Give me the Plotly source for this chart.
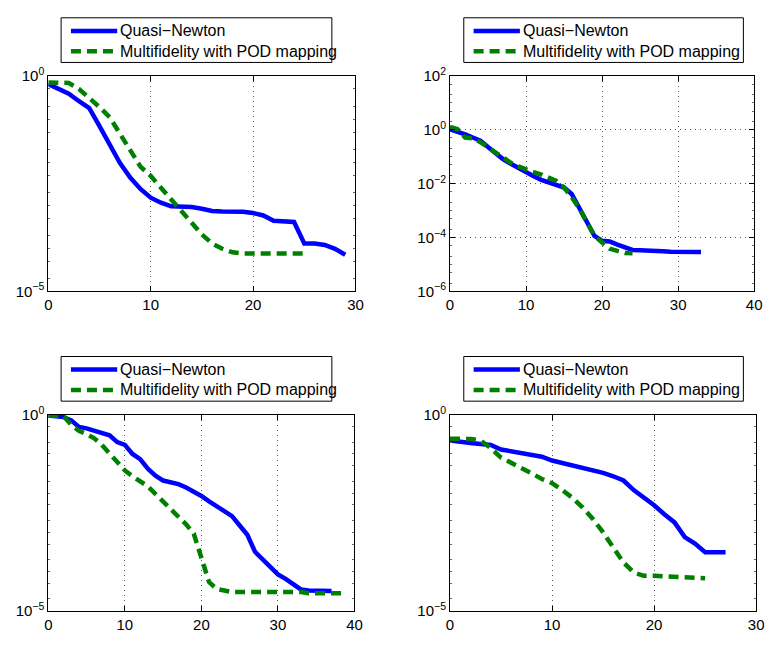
import plotly.graph_objects as go

# Residual histories for the four test cases (iteration vs. objective residual)
qn_1 = [0.65, 0.50, 0.39, 0.26, 0.18, 0.069, 0.025, 9.5e-3, 4.4e-3, 2.4e-3,
        1.5e-3, 1.15e-3, 9.5e-4, 9.3e-4, 9.1e-4, 8.3e-4, 7.4e-4, 7.2e-4, 7.2e-4, 7.1e-4,
        6.6e-4, 5.8e-4, 4.4e-4, 4.3e-4, 4.1e-4, 1.3e-4, 1.3e-4, 1.2e-4, 9.8e-5, 7.1e-5]
mf_1 = [0.71, 0.71, 0.69, 0.50, 0.32, 0.19, 0.11, 0.045, 0.019, 7.9e-3,
        4.8e-3, 2.6e-3, 1.4e-3, 7.1e-4, 3.9e-4, 2.1e-4, 1.3e-4, 9.8e-5, 8.1e-5, 7.6e-5,
        7.6e-5, 7.6e-5, 7.6e-5, 7.6e-5, 7.6e-5, 7.6e-5]

qn_2 = [1.05, 0.87, 0.69, 0.52, 0.40, 0.23, 0.13, 0.081, 0.055, 0.038,
        0.027, 0.019, 0.014, 0.011, 9.3e-3, 7.2e-3, 4.2e-3, 1.2e-3, 3.5e-4, 1.15e-4,
        7.6e-5, 7.2e-5, 5.5e-5, 4.2e-5, 3.5e-5, 3.4e-5, 3.2e-5, 3.2e-5, 3.1e-5, 3.0e-5,
        3.0e-5, 2.95e-5, 2.95e-5, 2.95e-5]
mf_2 = [1.3, 1.05, 0.52, 0.49, 0.35, 0.22, 0.14, 0.087, 0.060, 0.044,
        0.033, 0.027, 0.022, 0.017, 0.0126, 7.2e-3, 3.2e-3, 1.2e-3, 4.0e-4, 1.15e-4,
        6.6e-5, 3.9e-5, 3.2e-5, 2.7e-5, 2.6e-5]

qn_3 = [0.95, 0.93, 0.87, 0.72, 0.49, 0.45, 0.40, 0.34, 0.30, 0.20,
        0.17, 0.10, 0.074, 0.042, 0.028, 0.021, 0.019, 0.017, 0.014, 0.011,
        8.5e-3, 6.2e-3, 4.7e-3, 3.5e-3, 2.6e-3, 1.5e-3, 8.7e-4, 3.2e-4, 2.0e-4, 1.3e-4,
        8.5e-5, 6.5e-5, 4.9e-5, 3.5e-5, 3.3e-5, 3.2e-5, 3.2e-5, 3.2e-5]
mf_3 = [0.95, 0.95, 0.93, 0.55, 0.39, 0.32, 0.25, 0.17, 0.10, 0.065,
        0.038, 0.027, 0.020, 0.015, 9.5e-3, 6.2e-3, 4.0e-3, 2.6e-3, 1.6e-3, 9.3e-4,
        2.2e-4, 5.4e-5, 3.6e-5, 3.2e-5, 3.0e-5, 3.0e-5, 3.0e-5, 3.0e-5, 3.0e-5, 3.0e-5,
        3.0e-5, 3.0e-5, 3.0e-5, 3.0e-5, 2.8e-5, 2.8e-5, 2.8e-5, 2.8e-5, 2.8e-5, 2.8e-5]

qn_4 = [0.22, 0.20, 0.19, 0.18, 0.17, 0.13, 0.115, 0.105, 0.095, 0.085,
        0.068, 0.059, 0.048, 0.044, 0.038, 0.033, 0.027, 0.021, 0.012, 7.9e-3,
        4.9e-3, 2.9e-3, 1.8e-3, 7.6e-4, 5.2e-4, 3.1e-4, 3.1e-4, 3.1e-4]
mf_4 = [0.245, 0.245, 0.24, 0.22, 0.14, 0.081, 0.058, 0.042, 0.032, 0.023,
        0.018, 0.012, 7.6e-3, 4.3e-3, 2.2e-3, 1.0e-3, 4.0e-4, 1.7e-4, 9.5e-5, 7.8e-5,
        7.8e-5, 7.6e-5, 7.1e-5, 6.8e-5, 6.8e-5, 6.8e-5]

names = ["Quasi\u2212Newton", "Multifidelity with POD mapping"]

x_ranges = [[0, 30], [0, 40], [0, 40], [0, 30]]
x_ticks = [[0, 10, 20, 30], [0, 10, 20, 30, 40], [0, 10, 20, 30, 40], [0, 10, 20, 30]]
y_ranges = [[-5, 0], [-6, 2], [-5, 0], [-5, 0]]
y_tickvals = [[1, 1e-5], [1e2, 1, 1e-2, 1e-4, 1e-6], [1, 1e-5], [1, 1e-5]]
y_ticktext = [["10<sup>0</sup>", "10<sup>\u22125</sup>"],
              ["10<sup>2</sup>", "10<sup>0</sup>", "10<sup>\u22122</sup>",
               "10<sup>\u22124</sup>", "10<sup>\u22126</sup>"],
              ["10<sup>0</sup>", "10<sup>\u22125</sup>"],
              ["10<sup>0</sup>", "10<sup>\u22125</sup>"]]
y_grid = [False, True, False, False]

W, H = 776, 645
# pixel boxes of each axes: (left, right, top, bottom)
boxes = [(45, 357, 67, 289), (453, 762, 67, 289), (45, 356, 416, 618), (453, 764, 416, 618)]
# legend boxes: (left, right, top, bottom)
legend_boxes = [(58, 333, 7, 53), (467, 751, 7, 53), (58, 333, 356, 402), (467, 751, 356, 402)]

series = [(qn_1, mf_1), (qn_2, mf_2), (qn_3, mf_3), (qn_4, mf_4)]

BLUE = "#0000ff"
GREEN = "#008000"
LW = 4.5
DASH = "10px,6px"
FONT = "Liberation Sans, Arial, Helvetica, sans-serif"


def px(x):
    return x / W


def py(y):
    return 1 - y / H


fig = go.Figure()
layout = dict(
    width=W, height=H, margin=dict(l=0, r=0, t=0, b=0),
    paper_bgcolor="white", plot_bgcolor="white",
    font=dict(family=FONT, size=15, color="black"),
    showlegend=False,
)
shapes = []
annotations = []

for i, (qn, mf) in enumerate(series):
    k = "" if i == 0 else str(i + 1)
    fig.add_trace(go.Scatter(
        x=list(range(len(qn))), y=qn, mode="lines", name=names[0],
        line=dict(color=BLUE, width=LW), xaxis="x" + k, yaxis="y" + k))
    fig.add_trace(go.Scatter(
        x=list(range(len(mf))), y=mf, mode="lines", name=names[1],
        line=dict(color=GREEN, width=LW, dash=DASH),
        xaxis="x" + k, yaxis="y" + k))

    l, r, t, b = boxes[i]
    axis_common = dict(
        showline=True, linecolor="black", linewidth=1, mirror="ticks",
        ticks="inside", ticklen=5, tickcolor="black", zeroline=False,
        tickfont=dict(family=FONT, size=15, color="black"),
        gridcolor="#555555", griddash="1px,4px", gridwidth=1,
    )
    layout["xaxis" + k] = dict(
        axis_common, domain=[px(l), px(r)], anchor="y" + k,
        range=x_ranges[i], tickvals=x_ticks[i], showgrid=True)
    layout["yaxis" + k] = dict(
        axis_common, domain=[py(b), py(t)], anchor="x" + k,
        type="log", range=y_ranges[i], tickvals=y_tickvals[i],
        ticktext=y_ticktext[i], showgrid=y_grid[i],
        minor=dict(ticks="inside", ticklen=2, tickcolor="#666666", showgrid=False))

    # boxed key above each panel
    ll, lr, lt, lb = legend_boxes[i]
    shapes.append(dict(type="rect", xref="paper", yref="paper",
                       x0=px(ll), x1=px(lr), y0=py(lb), y1=py(lt),
                       line=dict(color="black", width=1), fillcolor="white", layer="above"))
    rows = [lt + 13.5, lt + 34.5]
    styles = [dict(color=BLUE, width=LW), dict(color=GREEN, width=LW, dash=DASH)]
    for row_y, style, label in zip(rows, styles, names):
        shapes.append(dict(type="line", xref="paper", yref="paper",
                           x0=px(ll + 10), x1=px(ll + 57), y0=py(row_y), y1=py(row_y),
                           line=style, layer="above"))
        annotations.append(dict(xref="paper", yref="paper", x=px(ll + 58), y=py(row_y),
                                xanchor="left", yanchor="middle", showarrow=False,
                                text=label, font=dict(family=FONT, size=16, color="black")))

layout["shapes"] = shapes
layout["annotations"] = annotations
fig.update_layout(**layout)
fig.write_html("out.html")
